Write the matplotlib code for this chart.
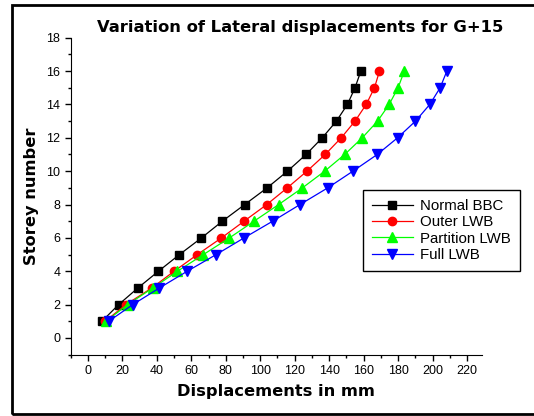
import numpy as np
import matplotlib.pyplot as plt
from matplotlib.patches import Rectangle
from matplotlib.ticker import MultipleLocator

# storey numbers and lateral displacements (mm)
storeys = np.arange(1, 17)
normal_bbc = [8.1, 17.8, 29.0, 40.9, 53.1, 65.9, 78.0, 91.0, 104.0, 115.8,
              126.6, 136.0, 144.2, 150.6, 155.0, 158.4]
outer_lwb = [10.0, 22.0, 37.1, 50.0, 63.5, 77.5, 90.6, 103.8, 115.7, 127.1,
             137.7, 147.0, 155.0, 161.5, 166.3, 169.2]
partition_lwb = [10.5, 23.0, 37.7, 51.9, 67.0, 82.1, 96.4, 110.7, 124.5, 137.4,
                 149.0, 159.2, 168.1, 174.8, 180.0, 183.6]
full_lwb = [12.0, 26.0, 41.5, 57.6, 74.4, 90.6, 107.2, 123.1, 139.2, 153.8,
            167.9, 179.7, 190.1, 198.4, 204.4, 208.3]

series = [
    ('Normal BBC', normal_bbc, 'black', 's', 5.3),
    ('Outer LWB', outer_lwb, '#ff0000', 'o', 6),
    ('Partition LWB', partition_lwb, '#00ff00', '^', 6.5),
    ('Full LWB', full_lwb, '#0000ff', 'v', 6.5),
]

fig = plt.figure(figsize=(5.34, 4.16), dpi=100)
ax = fig.add_axes([0.1324, 0.1474, 0.7696, 0.762])

for label, vals, col, mk, ms in series:
    ax.plot(vals, storeys, color=col, marker=mk, markersize=ms, lw=0.9,
            markeredgecolor=col, markerfacecolor=col, label=label)

ax.set_xlim(-10, 228.5)
ax.set_ylim(-1, 18)
ax.xaxis.set_major_locator(MultipleLocator(20))
ax.xaxis.set_minor_locator(MultipleLocator(10))
ax.yaxis.set_major_locator(MultipleLocator(2))
ax.yaxis.set_minor_locator(MultipleLocator(1))
ax.tick_params(which='major', length=4, width=1, direction='out')
ax.tick_params(which='minor', length=2.5, width=1, direction='out')
for t in ax.get_xticklabels() + ax.get_yticklabels():
    t.set_family('Liberation Sans')
    t.set_fontsize(9)

ax.spines['top'].set_visible(False)
ax.spines['right'].set_visible(False)

ax.set_xlabel('Displacements in mm', fontsize=11.7, fontweight='bold', labelpad=5)
ax.set_ylabel('Storey number', fontsize=11.7, fontweight='bold', labelpad=5)
fig.text(0.562, 0.935, 'Variation of Lateral displacements for G+15',
         ha='center', va='center', fontsize=11.8, fontweight='bold')

leg = ax.legend(loc='upper left', bbox_to_anchor=(0.68, 0.543),
                bbox_transform=fig.transFigure, borderaxespad=0,
                fancybox=False, edgecolor='black', framealpha=1,
                prop={'family': 'Liberation Sans', 'size': 10.8},
                handlelength=2.7, handletextpad=0.5, labelspacing=0.15,
                borderpad=0.6)
leg.get_frame().set_linewidth(1)

# outer border round the figure
fig.patches.append(Rectangle((12 / 534, 2 / 416), 530 / 534, 409 / 416,
                             transform=fig.transFigure, fill=False,
                             edgecolor='black', lw=2))

fig.savefig('out.png', dpi=100)
